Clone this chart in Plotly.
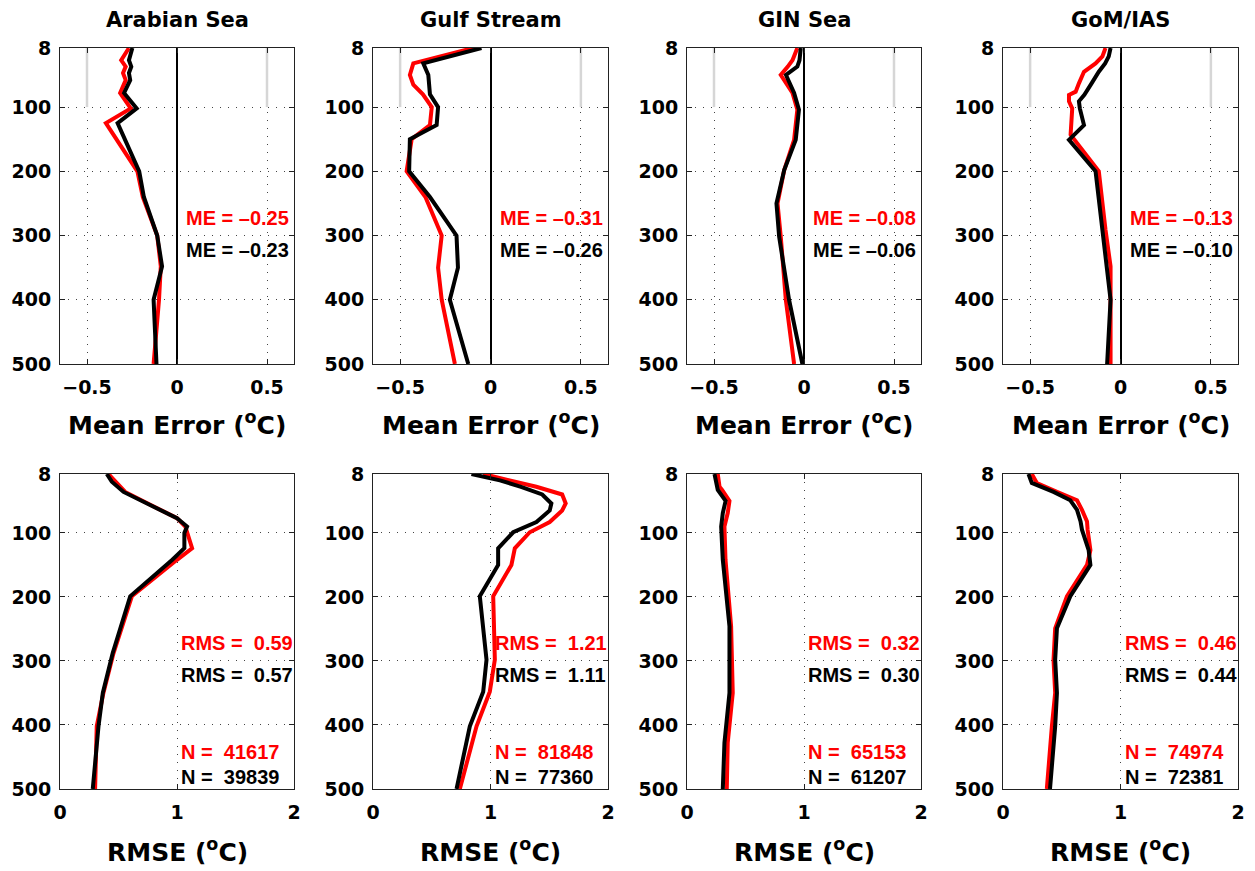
import plotly.graph_objects as go

W, H = 1255, 871
FONT = "DejaVu Sans"
LABEL_FONT = "Liberation Sans"

REGIONS = ["Arabian Sea", "Gulf Stream", "GIN Sea", "GoM/IAS"]

# ---- Mean error profiles (deg C) vs depth (m); A = red run, B = black run ----
AS_ME_DEPTH = [8, 27, 37, 47, 58, 78, 102, 125, 200, 240, 300, 348, 400, 500]
AS_ME_A = [-0.267, -0.31, -0.285, -0.30, -0.285, -0.316, -0.257, -0.395, -0.22, -0.19, -0.11, -0.09, -0.10, -0.13]
AS_ME_B = [-0.248, -0.267, -0.254, -0.267, -0.26, -0.294, -0.224, -0.33, -0.21, -0.184, -0.11, -0.083, -0.13, -0.114]

GS_ME_DEPTH = [8, 32, 50, 65, 80, 100, 128, 150, 200, 240, 300, 350, 400, 500]
GS_ME_A = [-0.096, -0.427, -0.446, -0.427, -0.374, -0.325, -0.335, -0.436, -0.464, -0.36, -0.27, -0.29, -0.27, -0.197]
GS_ME_B = [-0.05, -0.372, -0.344, -0.34, -0.335, -0.29, -0.298, -0.446, -0.45, -0.335, -0.188, -0.18, -0.225, -0.123]

GIN_ME_DEPTH = [8, 27, 37, 50, 78, 104, 151, 198, 250, 302, 400, 500]
GIN_ME_A = [-0.037, -0.064, -0.09, -0.129, -0.064, -0.037, -0.055, -0.11, -0.147, -0.129, -0.101, -0.055]
GIN_ME_B = [-0.018, -0.025, -0.037, -0.10, -0.055, -0.028, -0.046, -0.11, -0.153, -0.138, -0.083, -0.009]

GOM_ME_DEPTH = [8, 21, 32, 45, 63, 76, 81, 91, 102, 128, 143, 151, 200, 291, 348, 400, 500]
GOM_ME_A = [-0.083, -0.10, -0.138, -0.202, -0.23, -0.248, -0.285, -0.285, -0.267, -0.27, -0.276, -0.254, -0.12, -0.083, -0.055, -0.055, -0.055]
GOM_ME_B = [-0.055, -0.065, -0.085, -0.12, -0.16, -0.19, -0.20, -0.23, -0.225, -0.202, -0.256, -0.285, -0.138, -0.10, -0.075, -0.055, -0.074]

# ---- RMSE profiles (deg C) vs depth (m) ----
AS_RMSE_DEPTH = [8, 20, 36, 56, 77, 90, 100, 124, 142, 199, 288, 350, 402, 500]
AS_RMSE_A = [0.414, 0.471, 0.557, 0.771, 1.0, 1.071, 1.086, 1.129, 1.0, 0.614, 0.457, 0.371, 0.314, 0.30]
AS_RMSE_B = [0.40, 0.443, 0.543, 0.771, 1.0, 1.086, 1.063, 1.063, 0.96, 0.60, 0.45, 0.366, 0.329, 0.28]

GS_RMSE_DEPTH = [8, 18, 28, 40, 54, 65, 83, 99, 124, 150, 199, 298, 348, 402, 500]
GS_RMSE_A = [0.938, 1.164, 1.39, 1.61, 1.64, 1.61, 1.504, 1.334, 1.207, 1.178, 1.023, 1.037, 0.994, 0.881, 0.739]
GS_RMSE_B = [0.838, 1.08, 1.26, 1.44, 1.518, 1.504, 1.391, 1.193, 1.065, 1.065, 0.909, 0.966, 0.938, 0.824, 0.711]

GIN_RMSE_DEPTH = [8, 28, 33, 50, 69, 90, 142, 246, 350, 428, 500]
GIN_RMSE_A = [0.263, 0.278, 0.30, 0.363, 0.348, 0.320, 0.329, 0.377, 0.391, 0.348, 0.34]
GIN_RMSE_B = [0.235, 0.255, 0.263, 0.33, 0.306, 0.292, 0.306, 0.363, 0.363, 0.32, 0.306]

GOM_RMSE_DEPTH = [8, 22, 36, 49, 64, 82, 95, 127, 150, 199, 249, 298, 350, 402, 500]
GOM_RMSE_A = [0.245, 0.288, 0.459, 0.63, 0.672, 0.715, 0.72, 0.744, 0.715, 0.544, 0.444, 0.43, 0.444, 0.416, 0.373]
GOM_RMSE_B = [0.217, 0.245, 0.43, 0.573, 0.63, 0.66, 0.672, 0.729, 0.744, 0.573, 0.459, 0.444, 0.459, 0.444, 0.40]

# ---- Summary statistics per region ----
ME_A = ["–0.25", "–0.31", "–0.08", "–0.13"]
ME_B = ["–0.23", "–0.26", "–0.06", "–0.10"]
RMS_A = ["0.59", "1.21", "0.32", "0.46"]
RMS_B = ["0.57", "1.11", "0.30", "0.44"]
N_A = ["41617", "81848", "65153", "74974"]
N_B = ["39839", "77360", "61207", "72381"]

DEPTH_TICKS = [8, 100, 200, 300, 400, 500]
ME_TICKS = [-0.5, 0, 0.5]
ME_TICKTEXT = ["−0.5", "0", "0.5"]
RMSE_TICKS = [0, 1, 2]

ME_PROFILES = [
    (AS_ME_DEPTH, AS_ME_A, AS_ME_B),
    (GS_ME_DEPTH, GS_ME_A, GS_ME_B),
    (GIN_ME_DEPTH, GIN_ME_A, GIN_ME_B),
    (GOM_ME_DEPTH, GOM_ME_A, GOM_ME_B),
]
RMSE_PROFILES = [
    (AS_RMSE_DEPTH, AS_RMSE_A, AS_RMSE_B),
    (GS_RMSE_DEPTH, GS_RMSE_A, GS_RMSE_B),
    (GIN_RMSE_DEPTH, GIN_RMSE_A, GIN_RMSE_B),
    (GOM_RMSE_DEPTH, GOM_RMSE_A, GOM_RMSE_B),
]

RED = "#ff0000"
BLACK = "#000000"
NBSP = "\u00a0"

# panel placement in pixels
COLS_PX = [(60, 294), (373, 608), (687, 921), (1003, 1238)]
ROWS_PX = [(48, 364), (474, 789)]


def xdom(a, b):
    return [a / W, b / W]


def ydom(top, bottom):
    return [1 - bottom / H, 1 - top / H]


def label_font(color):
    return dict(family=LABEL_FONT, size=20, color=color, weight="bold")


tickfont = dict(family=FONT, size=19, color="black", weight="bold")
axis_common = dict(
    showline=True, linecolor="#222222", linewidth=1, mirror="ticks",
    ticks="inside", ticklen=5, tickcolor="#222222", tickwidth=1,
    showgrid=True, gridcolor="#444444", gridwidth=1, griddash="1px,7px",
    tickfont=tickfont, automargin=False,
)

fig = go.Figure()
layout = {}
annotations = []
shapes = []

for row in range(2):
    for col in range(4):
        n = row * 4 + col + 1
        xa = "xaxis" if n == 1 else f"xaxis{n}"
        ya = "yaxis" if n == 1 else f"yaxis{n}"
        xr = "x" if n == 1 else f"x{n}"
        yr = "y" if n == 1 else f"y{n}"
        cx0, cx1 = COLS_PX[col]
        ry0, ry1 = ROWS_PX[row]

        if row == 0:
            depth, a_vals, b_vals = ME_PROFILES[col]
            xcfg = dict(axis_common, domain=xdom(cx0, cx1), anchor=yr,
                        range=[-0.65, 0.65], tickvals=ME_TICKS, ticktext=ME_TICKTEXT,
                        zeroline=True, zerolinecolor="black", zerolinewidth=2,
                        ticklabelstandoff=6)
        else:
            depth, a_vals, b_vals = RMSE_PROFILES[col]
            xcfg = dict(axis_common, domain=xdom(cx0, cx1), anchor=yr,
                        range=[0, 2], tickvals=RMSE_TICKS, zeroline=False,
                        ticklabelstandoff=6)
        ycfg = dict(axis_common, domain=ydom(ry0, ry1), anchor=xr,
                    range=[500, 8], tickvals=DEPTH_TICKS, zeroline=False,
                    ticklabelstandoff=4)
        layout[xa] = xcfg
        layout[ya] = ycfg

        fig.add_trace(go.Scatter(x=a_vals, y=depth, mode="lines", xaxis=xr, yaxis=yr,
                                 line=dict(color=RED, width=4), showlegend=False,
                                 hoverinfo="skip"))
        fig.add_trace(go.Scatter(x=b_vals, y=depth, mode="lines", xaxis=xr, yaxis=yr,
                                 line=dict(color=BLACK, width=4), showlegend=False,
                                 hoverinfo="skip"))

        txt = dict(xref=xr, yref=yr, xanchor="left", yanchor="middle", showarrow=False)
        if row == 0:
            # light guide lines in the upper layer
            for xv in (ME_TICKS[0], ME_TICKS[-1]):
                shapes.append(dict(type="line", xref=xr, yref=yr, x0=xv, x1=xv,
                                   y0=DEPTH_TICKS[0], y1=DEPTH_TICKS[1],
                                   line=dict(color="#d6d6d6", width=2.5), layer="between"))
            annotations.append(dict(txt, x=0.04, y=273, text=f"ME = {ME_A[col]}",
                                    font=label_font(RED)))
            annotations.append(dict(txt, x=0.04, y=323, text=f"ME = {ME_B[col]}",
                                    font=label_font(BLACK)))
            # region title
            annotations.append(dict(xref="paper", yref="paper", x=(cx0 + cx1) / 2 / W,
                                    y=1 - 20 / H, xanchor="center", yanchor="middle",
                                    showarrow=False, text=REGIONS[col],
                                    font=dict(family=FONT, size=21, color="black", weight="bold")))
            annotations.append(dict(xref="paper", yref="paper", x=(cx0 + cx1) / 2 / W,
                                    y=1 - 423 / H, xanchor="center", yanchor="middle",
                                    showarrow=False, text="Mean Error (<sup>o</sup>C)",
                                    font=dict(family=FONT, size=25, color="black", weight="bold")))
        else:
            annotations.append(dict(txt, x=1.02, y=272, text=f"RMS ={NBSP} {RMS_A[col]}",
                                    font=label_font(RED)))
            annotations.append(dict(txt, x=1.02, y=322, text=f"RMS ={NBSP} {RMS_B[col]}",
                                    font=label_font(BLACK)))
            annotations.append(dict(txt, x=1.02, y=442, text=f"N ={NBSP} {N_A[col]}",
                                    font=label_font(RED)))
            annotations.append(dict(txt, x=1.02, y=481, text=f"N ={NBSP} {N_B[col]}",
                                    font=label_font(BLACK)))
            annotations.append(dict(xref="paper", yref="paper", x=(cx0 + cx1) / 2 / W,
                                    y=1 - 850 / H, xanchor="center", yanchor="middle",
                                    showarrow=False, text="RMSE (<sup>o</sup>C)",
                                    font=dict(family=FONT, size=25, color="black", weight="bold")))

fig.update_layout(
    width=W, height=H,
    margin=dict(l=0, r=0, t=0, b=0, pad=0, autoexpand=False),
    paper_bgcolor="white", plot_bgcolor="white",
    showlegend=False,
    annotations=annotations, shapes=shapes,
    **layout,
)

fig.write_html("out.html")
